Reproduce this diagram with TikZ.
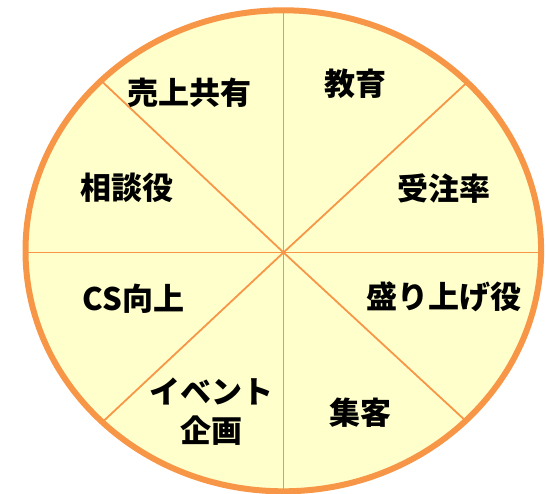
\documentclass[tikz,border=0pt]{standalone}
\usepackage{fontspec}
\setmainfont{Noto Sans CJK JP}[BoldFont={* Black}]
\definecolor{ring}{HTML}{F79646}
\definecolor{pie}{HTML}{FFFFCC}
\begin{document}
\begin{tikzpicture}[x=1pt,y=-1pt,
  lbl/.style={font=\bfseries\fontsize{31}{36}\selectfont, inner sep=0pt, text=black, align=center},
  spoke/.style={draw=ring, line width=1.8pt}]
\useasboundingbox (0,0) rectangle (546,493);
\fill[pie] (283.3,250.8) ellipse [x radius=257.8, y radius=240.5];
\coordinate (O) at (283.5,252.5);
\coordinate (T) at (283.5,10);
\coordinate (B) at (283.5,493);
\coordinate (L) at (25.5,252.5);
\coordinate (R) at (541.5,252.5);
\coordinate (UR) at (467.5,82);
\coordinate (UL) at (102.5,82);
\coordinate (LL) at (102,422.5);
\coordinate (LR) at (467.5,422.5);
\foreach \p in {T,B,L,R,UR,UL,LL,LR} \draw[spoke] (O) -- (\p);
\draw[ring, line width=6pt] (283.3,250.8) ellipse [x radius=257.8, y radius=240.5];
\node[lbl] (n1) at (189,93) {売上共有};
\node[lbl] (n2) at (355,84) {教育};
\node[lbl] (n3) at (127,187.5) {相談役};
\node[lbl] (n4) at (444,188.5) {受注率};
\node[lbl] (n5) at (133.5,298.5) {CS向上};
\node[lbl] (n6) at (444,296.5) {盛り上げ役};
\node[lbl] (n7) at (211,391) {イベント};
\node[lbl] (n8) at (211,431) {企画};
\node[lbl] (n9) at (360,412.5) {集客};
\end{tikzpicture}
\end{document}
